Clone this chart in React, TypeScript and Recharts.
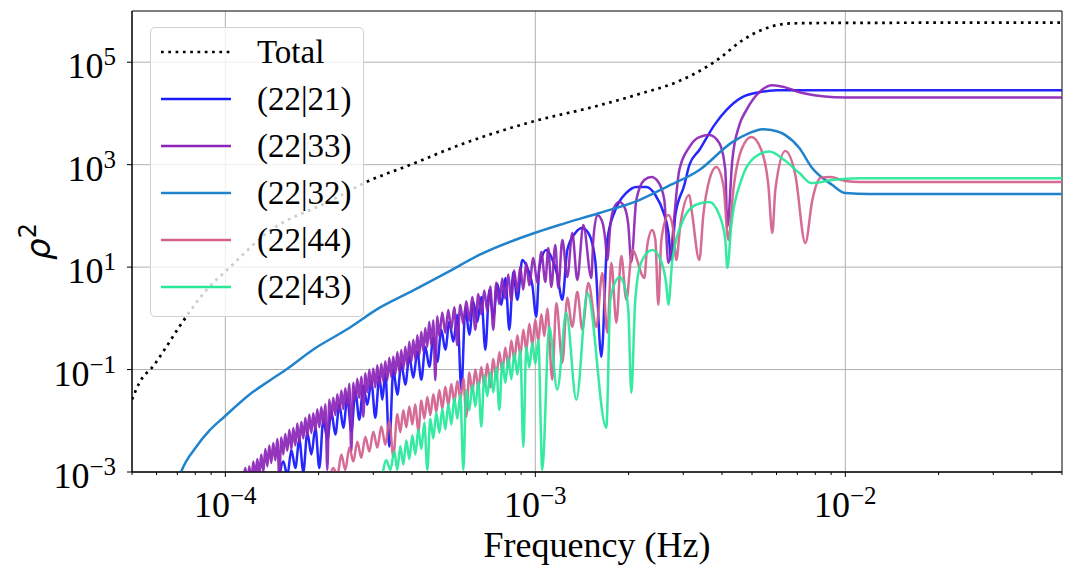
import React from "react";
import { LineChart, Line, XAxis, YAxis, CartesianGrid, Legend, ReferenceArea } from "recharts";

type Pt = [number, number];

// axis ticks
const X_MAJOR = [1e-4, 1e-3, 1e-2];
const X_MINOR = [
  5e-5, 6e-5, 7e-5, 8e-5, 9e-5, 2e-4, 3e-4, 4e-4, 5e-4, 6e-4, 7e-4, 8e-4, 9e-4,
  2e-3, 3e-3, 4e-3, 5e-3, 6e-3, 7e-3, 8e-3, 9e-3, 2e-2, 3e-2, 4e-2, 5e-2,
];
const Y_MAJOR = [1e-3, 1e-1, 1e1, 1e3, 1e5];

// [frequency Hz, rho^2]
const TOTAL: Pt[] = [
  [5.0e-5, 0.026], [5.28e-5, 0.055], [5.9e-5, 0.124], [6.36e-5, 0.243], [7.1e-5, 0.68],
  [8.7e-5, 3.6], [1.03e-4, 9.7], [1.36e-4, 46], [2.21e-4, 204], [2.85e-4, 458],
  [3.93e-4, 980], [5.69e-4, 2410], [9.93e-4, 7080], [1.53e-3, 13300], [2.21e-3, 24900],
  [2.85e-3, 40700], [3.64e-3, 87500], [3.93e-3, 120000], [4.66e-3, 269000],
  [5.98e-3, 526000], [6.75e-3, 575000], [9.6e-3, 585000], [0.05, 595000],
];

const MODE_21: Pt[] = [
  [1.493e-4, 7.8e-4], [1.539e-4, 1.6e-3], [1.585e-4, 8.5e-4], [1.633e-4, 2.7e-3], [1.682e-4, 1.2e-3],
  [1.733e-4, 4.3e-3], [1.785e-4, 1.0e-3], [1.839e-4, 5.9e-3], [1.895e-4, 2.2e-3], [1.952e-4, 7.3e-3],
  [2.01e-4, 1.2e-3], [2.071e-4, 0.0105], [2.134e-4, 4.3e-3], [2.198e-4, 0.015], [2.264e-4, 5.4e-3],
  [2.333e-4, 0.0206], [2.403e-4, 7.3e-3], [2.475e-4, 0.0282], [2.55e-4, 6.1e-3], [2.627e-4, 0.0369],
  [2.706e-4, 0.0105], [2.787e-4, 0.0483], [2.871e-4, 0.0206], [2.958e-4, 0.0578], [3.047e-4, 0.0115],
  [3.139e-4, 0.0724], [3.21e-4, 0.0258], [3.282e-4, 0.0828], [3.381e-4, 3.1e-3], [3.483e-4, 0.0991],
  [3.588e-4, 0.0323], [3.696e-4, 0.13], [3.807e-4, 0.0506], [3.922e-4, 0.178], [4.041e-4, 0.0692],
  [4.163e-4, 0.222], [4.288e-4, 0.0633], [4.418e-4, 0.278], [4.551e-4, 0.113], [4.688e-4, 0.417],
  [4.83e-4, 0.142], [4.975e-4, 0.597], [5.125e-4, 0.243], [5.28e-4, 0.855], [5.439e-4, 0.348],
  [5.604e-4, 1.17], [5.773e-4, 0.0404], [5.947e-4, 1.6], [6.126e-4, 0.477], [6.31e-4, 2.1],
  [6.501e-4, 0.855], [6.697e-4, 2.62], [6.899e-4, 0.243], [7.107e-4, 3.59], [7.321e-4, 1.02],
  [7.542e-4, 4.71], [7.77e-4, 1.83], [8.004e-4, 6.16], [8.245e-4, 0.597], [8.494e-4, 8.06],
  [8.75e-4, 2.3], [9.079e-4, 13.8], [9.424e-4, 9.65], [9.78e-4, 4.5], [1.007e-3, 1.07],
  [1.03e-3, 9.65], [1.085e-3, 21.6], [1.143e-3, 12.6], [1.177e-3, 7.04], [1.222e-3, 2.3],
  [1.268e-3, 21.6], [1.346e-3, 46.4], [1.418e-3, 58.1], [1.494e-3, 42.5], [1.562e-3, 12.6],
  [1.633e-3, 0.178], [1.707e-3, 33.9], [1.812e-3, 130], [1.966e-3, 280], [2.117e-3, 366],
  [2.281e-3, 366], [2.439e-3, 256], [2.588e-3, 119], [2.686e-3, 48.6], [2.746e-3, 13.8],
  [2.829e-3, 104], [3.025e-3, 401], [3.139e-3, 984], [3.381e-3, 1930], [3.78e-3, 5920],
  [4.132e-3, 11600], [4.653e-3, 20800], [5.28e-3, 26000], [5.99e-3, 28500], [0.05, 28500],
];

const MODE_33: Pt[] = [
  [1.143e-4, 7.1e-4], [1.16e-4, 1.2e-3], [1.178e-4, 6e-4],
  [1.195e-4, 0.0013], [1.213e-4, 0.0006], [1.231e-4, 0.0016], [1.2495e-4, 0.0008], [1.268e-4, 0.0018],
  [1.287e-4, 0.0009], [1.306e-4, 0.0022], [1.326e-4, 0.001], [1.346e-4, 0.0028], [1.366e-4, 0.0013],
  [1.386e-4, 0.0033], [1.407e-4, 0.0015], [1.428e-4, 0.0037], [1.45e-4, 0.0017], [1.471e-4, 0.0044],
  [1.493e-4, 0.0008], [1.516e-4, 0.0047], [1.538e-4, 0.0022], [1.561e-4, 0.0055], [1.585e-4, 0.0026],
  [1.609e-4, 0.0067], [1.633e-4, 0.0028], [1.657e-4, 0.0072], [1.682e-4, 0.0033], [1.707e-4, 0.0088],
  [1.733e-4, 0.0038], [1.759e-4, 0.0095], [1.785e-4, 0.0045], [1.812e-4, 0.0115], [1.839e-4, 0.005],
  [1.866e-4, 0.0132], [1.894e-4, 0.0058], [1.922e-4, 0.014], [1.951e-4, 0.0066], [1.98e-4, 0.0168],
  [2.01e-4, 0.0075], [2.04e-4, 0.0185], [2.071e-4, 0.0085], [2.102e-4, 0.021], [2.133e-4, 0.0011],
  [2.165e-4, 0.026], [2.197e-4, 0.011], [2.23e-4, 0.028], [2.264e-4, 0.013], [2.298e-4, 0.033],
  [2.332e-4, 0.015], [2.367e-4, 0.039], [2.402e-4, 0.017], [2.438e-4, 0.043], [2.475e-4, 0.02],
  [2.512e-4, 0.053], [2.549e-4, 0.0025], [2.587e-4, 0.055], [2.626e-4, 0.025], [2.665e-4, 0.066],
  [2.705e-4, 0.028], [2.746e-4, 0.072], [2.787e-4, 0.012], [2.829e-4, 0.085], [2.871e-4, 0.036],
  [2.914e-4, 0.099], [2.957e-4, 0.042], [3.002e-4, 0.105], [3.047e-4, 0.045], [3.092e-4, 0.122],
  [3.138e-4, 0.05], [3.185e-4, 0.13], [3.233e-4, 0.058], [3.281e-4, 0.145], [3.331e-4, 0.062],
  [3.38e-4, 0.17], [3.431e-4, 0.072], [3.482e-4, 0.18], [3.534e-4, 0.078], [3.587e-4, 0.22],
  [3.641e-4, 0.09], [3.695e-4, 0.24], [3.751e-4, 0.1], [3.807e-4, 0.28], [3.864e-4, 0.12],
  [3.922e-4, 0.35], [3.98e-4, 0.14], [4.04e-4, 0.38], [4.1e-4, 0.16], [4.162e-4, 0.47],
  [4.224e-4, 0.19], [4.287e-4, 0.55], [4.351e-4, 0.23], [4.416e-4, 0.65], [4.482e-4, 0.28],
  [4.549e-4, 0.86], [4.617e-4, 0.3], [4.686e-4, 0.92], [4.757e-4, 0.062], [4.828e-4, 1.1],
  [4.9e-4, 0.45], [5.01e-4, 1.3], [5.123e-4, 0.52], [5.239e-4, 1.45], [5.357e-4, 0.6],
  [5.477e-4, 1.65], [5.601e-4, 0.3], [5.727e-4, 1.85], [5.856e-4, 0.78], [5.988e-4, 2.15],
  [6.123e-4, 0.9], [6.261e-4, 2.6], [6.401e-4, 0.6], [6.546e-4, 3.0], [6.693e-4, 1.2],
  [6.844e-4, 3.5], [6.998e-4, 1.4], [7.156e-4, 4.2], [7.317e-4, 0.6], [7.482e-4, 5.0],
  [7.65e-4, 1.9], [7.823e-4, 6.0], [7.999e-4, 2.4], [8.179e-4, 7.2], [8.363e-4, 2.2],
  [8.552e-4, 8.6], [8.744e-4, 3.2], [8.941e-4, 10.2], [9.142e-4, 3.6], [9.349e-4, 12.0],
  [9.559e-4, 4.4], [9.853e-4, 15.1], [1.015e-3, 4.92],
  [1.046e-3, 19.8], [1.077e-3, 5.14], [1.101e-3, 23.7], [1.126e-3, 4.11], [1.16e-3, 27.1],
  [1.186e-3, 3.93], [1.222e-3, 33.9], [1.268e-3, 6.44], [1.316e-3, 46.4], [1.366e-3, 5.63],
  [1.428e-3, 66.5], [1.516e-3, 6.16], [1.538e-3, 33.9], [1.585e-3, 104], [1.645e-3, 76],
  [1.682e-3, 33.9], [1.707e-3, 13.8], [1.746e-3, 66.5], [1.798e-3, 149], [1.867e-3, 187],
  [1.938e-3, 149], [1.995e-3, 66.5], [2.04e-3, 12.6], [2.117e-3, 204], [2.247e-3, 501],
  [2.367e-3, 573], [2.493e-3, 458], [2.607e-3, 204], [2.686e-3, 12.1], [2.914e-3, 785],
  [3.139e-3, 2200], [3.381e-3, 3450], [3.641e-3, 3780], [3.922e-3, 2640], [4.101e-3, 785],
  [4.163e-3, 60.8], [4.32e-3, 1230], [4.551e-3, 5920], [4.795e-3, 11600], [5.28e-3, 26000],
  [5.815e-3, 35600], [6.357e-3, 32600], [7.107e-3, 26000], [7.943e-3, 22700], [9.215e-3, 20800],
  [1.11e-2, 20500], [0.05, 20500],
];

const MODE_32: Pt[] = [
  [6.9e-5, 4.5e-4], [7.21e-5, 1.02e-3], [8.06e-5, 3.1e-3], [8.88e-5, 6.4e-3], [9.93e-5, 0.012],
  [1.195e-4, 0.0323], [1.387e-4, 0.0605], [1.585e-4, 0.104], [1.937e-4, 0.255], [2.457e-4, 0.597],
  [3.139e-4, 1.6], [4.071e-4, 3.59], [5.164e-4, 7.71], [6.597e-4, 17.3], [9.93e-4, 46.4],
  [1.195e-3, 66.5], [1.609e-3, 114], [2.165e-3, 204], [2.646e-3, 366], [3.381e-3, 785],
  [4.32e-3, 2760], [4.901e-3, 4130], [5.399e-3, 4940], [5.772e-3, 4730], [6.404e-3, 3780],
  [7.107e-3, 2110], [7.77e-3, 898], [9.079e-3, 401], [1.0e-2, 279], [1.195e-2, 267], [0.05, 267],
];

const MODE_44: Pt[] = [
  [2.166e-4, 7.8e-4], [2.231e-4, 1.2e-3], [2.298e-4, 8.5e-4], [2.367e-4, 2.2e-3], [2.439e-4, 1.1e-3],
  [2.512e-4, 3.0e-3], [2.588e-4, 1.6e-3], [2.666e-4, 3.9e-3], [2.746e-4, 1.9e-3], [2.829e-4, 4.9e-3],
  [2.914e-4, 2.5e-3], [3.002e-4, 6.1e-3], [3.093e-4, 3.0e-3], [3.186e-4, 7.7e-3], [3.282e-4, 3.4e-3],
  [3.381e-4, 0.01], [3.483e-4, 2.0e-3],
  [3.588e-4, 0.0135], [3.669e-4, 0.006], [3.751e-4, 0.016], [3.836e-4, 0.0075], [3.922e-4, 0.019],
  [4.011e-4, 0.0085], [4.101e-4, 0.021], [4.194e-4, 0.006], [4.288e-4, 0.025], [4.385e-4, 0.011],
  [4.484e-4, 0.029], [4.585e-4, 0.013], [4.688e-4, 0.033], [4.794e-4, 0.015], [4.902e-4, 0.04],
  [5.012e-4, 0.017], [5.125e-4, 0.046], [5.241e-4, 0.02], [5.359e-4, 0.052], [5.479e-4, 0.023],
  [5.603e-4, 0.06], [5.729e-4, 0.026], [5.858e-4, 0.068], [5.99e-4, 0.012], [6.125e-4, 0.088],
  [6.263e-4, 0.036], [6.404e-4, 0.1], [6.549e-4, 0.042], [6.696e-4, 0.112], [6.847e-4, 0.048],
  [7.001e-4, 0.13], [7.159e-4, 0.045], [7.32e-4, 0.16], [7.485e-4, 0.065], [7.654e-4, 0.22],
  [7.826e-4, 0.09], [8.003e-4, 0.27], [8.183e-4, 0.11], [8.368e-4, 0.37], [8.556e-4, 0.15],
  [8.749e-4, 0.47], [8.946e-4, 0.19], [9.148e-4, 0.6], [9.354e-4, 0.24], [9.564e-4, 0.78],
  [9.78e-4, 0.3], [1.0e-3, 0.95], [1.0225e-3, 0.36], [1.0456e-3, 1.2], [1.0691e-3, 0.45],
  [1.0932e-3, 1.55],
  [1.134e-3, 0.0633], [1.169e-3, 2.0], [1.222e-3, 0.136], [1.268e-3, 2.51],
  [1.316e-3, 0.683], [1.366e-3, 3.29], [1.418e-3, 0.597], [1.483e-3, 4.92], [1.573e-3, 0.683],
  [1.645e-3, 7.71], [1.707e-3, 0.521], [1.759e-3, 12.1], [1.826e-3, 0.817], [1.894e-3, 16.5],
  [1.966e-3, 2.3], [2.055e-3, 21.6], [2.247e-3, 6.16], [2.298e-3, 27.1], [2.384e-3, 53.1],
  [2.439e-3, 33.9], [2.493e-3, 1.83], [2.55e-3, 33.9], [2.686e-3, 104], [2.787e-3, 53.1],
  [2.85e-3, 13.8], [2.936e-3, 66.5], [3.139e-3, 256], [3.209e-3, 104], [3.381e-3, 13.8],
  [3.483e-3, 104], [3.641e-3, 501], [3.836e-3, 898], [4.041e-3, 401], [4.195e-3, 33.9],
  [4.352e-3, 320], [4.618e-3, 1930], [4.975e-3, 3450], [5.36e-3, 1930], [5.645e-3, 401],
  [5.815e-3, 46.4], [5.946e-3, 320], [6.404e-3, 1840], [6.899e-3, 628], [7.43e-3, 29.6],
  [7.827e-3, 204], [8.309e-3, 548], [8.944e-3, 573], [1.0e-2, 480], [1.11e-2, 458], [0.05, 458],
];

const MODE_43: Pt[] = [
  [3.21e-4, 8.5e-4], [3.307e-4, 1.7e-3], [3.406e-4, 1.1e-3],
  [3.509e-4, 0.0025], [3.588e-4, 0.0011], [3.669e-4, 0.0032], [3.752e-4, 0.0014], [3.836e-4, 0.0041],
  [3.923e-4, 0.0018], [4.011e-4, 0.0052], [4.101e-4, 0.0022], [4.194e-4, 0.0068], [4.288e-4, 0.0028],
  [4.385e-4, 0.0093], [4.484e-4, 0.0011], [4.585e-4, 0.011], [4.688e-4, 0.0045], [4.794e-4, 0.0145],
  [4.902e-4, 0.0058], [5.012e-4, 0.017], [5.125e-4, 0.0068], [5.241e-4, 0.021], [5.359e-4, 0.0085],
  [5.479e-4, 0.028], [5.603e-4, 0.011], [5.729e-4, 0.033], [5.858e-4, 0.0011], [5.99e-4, 0.04],
  [6.125e-4, 0.016], [6.263e-4, 0.05], [6.404e-4, 0.019], [6.549e-4, 0.058], [6.696e-4, 0.0077],
  [6.847e-4, 0.078], [7.001e-4, 0.03], [7.159e-4, 0.09], [7.32e-4, 0.036], [7.485e-4, 0.11],
  [7.654e-4, 0.0164], [7.826e-4, 0.14], [8.003e-4, 0.055], [8.183e-4, 0.17], [8.368e-4, 0.065],
  [8.556e-4, 0.21], [8.749e-4, 0.08], [8.946e-4, 0.24], [9.148e-4, 0.0031], [9.354e-4, 0.28],
  [9.564e-4, 0.11], [9.78e-4, 0.33], [1.0e-3, 0.13], [1.0225e-3, 0.38],
  [1.053e-3, 1.1e-3], [1.109e-3, 0.683], [1.177e-3, 0.0404],
  [1.259e-3, 1.28], [1.356e-3, 0.0258], [1.472e-3, 3.14], [1.694e-3, 7.3e-3], [1.746e-3, 2.3],
  [1.826e-3, 5.63], [1.867e-3, 6.44], [1.923e-3, 5.14], [1.995e-3, 1.47], [2.04e-3, 0.0353],
  [2.101e-3, 2.3], [2.198e-3, 12.6], [2.384e-3, 21.6], [2.55e-3, 12.6], [2.646e-3, 4.5],
  [2.686e-3, 1.83], [2.767e-3, 13.8], [2.98e-3, 76], [3.282e-3, 163], [3.641e-3, 187],
  [3.922e-3, 104], [4.101e-3, 33.9], [4.163e-3, 9.65], [4.288e-3, 66.5], [4.618e-3, 501],
  [5.088e-3, 1380], [5.687e-3, 1800], [6.357e-3, 1230], [7.107e-3, 686], [7.77e-3, 438],
  [9.079e-3, 501], [1.11e-2, 541], [0.05, 541],
];

const SERIF = "'Liberation Serif', 'Times New Roman', Times, serif";
const SANS = "'DejaVu Sans', sans-serif";

const SERIES = [
  { key: "total", name: "Total", data: TOTAL, color: "#000000", width: 2.7, dash: "2.7 4.6", opacity: 1 },
  { key: "m21", name: "(22|21)", data: MODE_21, color: "#1a1aff", width: 2.5, dash: undefined, opacity: 0.95 },
  { key: "m33", name: "(22|33)", data: MODE_33, color: "#8b24b8", width: 2.5, dash: undefined, opacity: 0.92 },
  { key: "m32", name: "(22|32)", data: MODE_32, color: "#2183cc", width: 2.5, dash: undefined, opacity: 1 },
  { key: "m44", name: "(22|44)", data: MODE_44, color: "#d2608c", width: 2.5, dash: undefined, opacity: 0.92 },
  { key: "m43", name: "(22|43)", data: MODE_43, color: "#25e899", width: 2.5, dash: undefined, opacity: 0.92 },
];

const X_TICKS = [...X_MAJOR, ...X_MINOR].sort((a, b) => a - b);

const rows = (pts: Pt[]) => pts.map(([f, v]) => ({ f, v }));

const expText = (value: number) => {
  const e = Math.round(Math.log10(value));
  return e < 0 ? `\u2212${-e}` : `${e}`;
};

const serifStyle = { fontFamily: SERIF };

const XTick = (props: any) => {
  const { x, y, payload } = props;
  const major = X_MAJOR.includes(payload.value);
  return (
    <g>
      <line x1={x} x2={x} y1={y} y2={y + (major ? 5 : 3)} stroke="#000" strokeWidth={1} />
      {major && (
        <text x={x} y={y + 45} textAnchor="middle" style={serifStyle} fontSize={36} fill="#000">
          10
          <tspan dy={-13} fontSize={25} style={serifStyle}>{expText(payload.value)}</tspan>
        </text>
      )}
    </g>
  );
};

const YTick = (props: any) => {
  const { x, y, payload } = props;
  return (
    <text x={x} y={y + 16} textAnchor="end" style={serifStyle} fontSize={36} fill="#000">
      10
      <tspan dy={-13} fontSize={25} style={serifStyle}>{expText(payload.value)}</tspan>
    </text>
  );
};

const XLabel = (props: any) => {
  const { viewBox } = props;
  return (
    <text
      x={viewBox.x + viewBox.width / 2}
      y={viewBox.y + 85}
      textAnchor="middle"
      style={serifStyle}
      fontSize={36}
      fill="#000"
    >
      Frequency (Hz)
    </text>
  );
};

const RhoLabel = (props: any) => {
  const cy = props.viewBox.y + props.viewBox.height / 2;
  return (
    <text
      x={50}
      y={cy}
      transform={`rotate(-90, 50, ${cy})`}
      textAnchor="middle"
      style={{ fontFamily: SANS }}
      fontSize={34}
      fill="#000"
    >
      <tspan fontStyle="italic">ρ</tspan>
      <tspan dy={-14} fontSize={24}>2</tspan>
    </text>
  );
};

const LegendBox = () => (
  <div
    style={{
      width: 214,
      height: 290,
      boxSizing: "border-box",
      border: "1px solid #d0d0d0",
      borderRadius: 5,
      background: "rgba(255,255,255,0.8)",
    }}
  >
    <svg width={212} height={288} style={{ display: "block" }}>
      {SERIES.map((s, i) => (
        <g key={s.key}>
          <line
            x1={10}
            x2={80}
            y1={24 + i * 47}
            y2={24 + i * 47}
            stroke={s.color}
            strokeWidth={s.width}
            strokeDasharray={s.dash}
          />
          <text x={106} y={35 + i * 47} style={serifStyle} fontSize={33} fill="#000">
            {s.name}
          </text>
        </g>
      ))}
    </svg>
  </div>
);

export default function App() {
  return (
    <div
      style={{ position: "absolute", left: 0, top: 0, width: 1071, height: 574, background: "#fff", fontFamily: SERIF }}
    >
      <LineChart
        width={1071}
        height={574}
        margin={{ top: 11, right: 9, bottom: 42, left: 32 }}
        style={{ fontFamily: SERIF }}
      >
        <CartesianGrid stroke="#b0b0b0" strokeWidth={1} verticalValues={X_MAJOR} horizontalValues={Y_MAJOR} />
        <XAxis
          dataKey="f"
          type="number"
          scale="log"
          domain={[5e-5, 0.05]}
          allowDataOverflow
          ticks={X_TICKS}
          interval={0}
          height={60}
          tickSize={0}
          tickMargin={0}
          tickLine={false}
          tick={<XTick />}
          axisLine={{ stroke: "#000" }}
          label={(p: any) => <XLabel {...p} />}
        />
        <YAxis
          type="number"
          scale="log"
          domain={[1e-3, 1e6]}
          allowDataOverflow
          ticks={Y_MAJOR}
          interval={0}
          width={100}
          tickSize={5}
          tickMargin={11}
          tick={<YTick />}
          tickLine={{ stroke: "#000" }}
          axisLine={{ stroke: "#000" }}
          label={(p: any) => <RhoLabel {...p} />}
        />
        <ReferenceArea x1={5e-5} x2={0.05} y1={1e-3} y2={1e6} fill="none" stroke="#000" strokeWidth={1} />
        {SERIES.map((s) => (
          <Line
            key={s.key}
            name={s.name}
            data={rows(s.data)}
            dataKey="v"
            type="monotone"
            stroke={s.color}
            strokeWidth={s.width}
            strokeDasharray={s.dash}
            strokeOpacity={s.opacity}
            dot={false}
            activeDot={false}
            isAnimationActive={false}
          />
        ))}
        <Legend
          layout="vertical"
          align="center"
          verticalAlign="middle"
          content={() => <LegendBox />}
          wrapperStyle={{ left: 150, top: 27, width: 214, height: 290 }}
        />
      </LineChart>
    </div>
  );
}
